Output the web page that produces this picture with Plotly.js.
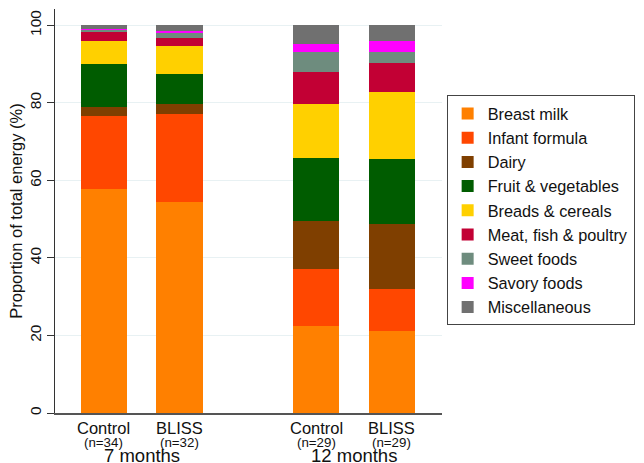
<!DOCTYPE html>
<html>
<head>
<meta charset="utf-8">
<script src="https://cdn.plot.ly/plotly-3.0.1.min.js"></script>
<style>
html,body{margin:0;padding:0;background:#fff;}
#chart{width:644px;height:463px;}
</style>
</head>
<body>
<div id="chart"></div>
<script>
// ---- data ----
const ageGroups = ['7 months', '7 months', '12 months', '12 months'];
const arms = ['Control', 'BLISS', 'Control', 'BLISS'];
const nLabels = ['(n=34)', '(n=32)', '(n=29)', '(n=29)'];
const groupLabels = ['7 months', '12 months'];

const foodNames = ['Breast milk', 'Infant formula', 'Dairy', 'Fruit & vegetables',
  'Breads & cereals', 'Meat, fish & poultry', 'Sweet foods', 'Savory foods', 'Miscellaneous'];

const breastMilk    = [57.8, 54.5, 22.4, 21.2];
const infantFormula = [18.7, 22.7, 14.7, 10.8];
const dairy         = [2.3, 2.4, 12.5, 16.8];
const fruitVeg      = [11.3, 7.8, 16.1, 16.7];
const breadsCereals = [5.8, 7.3, 14.0, 17.2];
const meatFish      = [2.4, 2.0, 8.3, 7.6];
const sweetFoods    = [0.6, 1.4, 5.1, 2.8];
const savoryFoods   = [0.1, 0.3, 2.1, 2.8];
const misc          = [1.0, 1.6, 4.8, 4.1];

const yTicks = [0, 20, 40, 60, 80, 100];

// ---- styles ----
const seriesValues = [breastMilk, infantFormula, dairy, fruitVeg, breadsCereals, meatFish, sweetFoods, savoryFoods, misc];
const colors = ['#FF8000', '#FF4700', '#7F3F00', '#005C00', '#FFD000', '#C20034', '#6E8C7E', '#FF00FF', '#707070'];
const FONT = 'Liberation Sans, Arial, sans-serif';

// x positions: bars within a group 1 apart, extra gap between groups
const groupGap = 0.8;
const groupIndex = ageGroups.map(g => groupLabels.indexOf(g));
const xpos = arms.map((a, i) => i + 1 + groupIndex[i] * groupGap);

const traces = seriesValues.map((vals, k) => ({
  type: 'bar',
  name: foodNames[k],
  x: xpos,
  y: vals,
  width: 0.61,
  marker: {color: colors[k], line: {width: 0}},
  hoverinfo: 'name+y'
}));

const annotations = [];
xpos.forEach((x, i) => {
  annotations.push({
    x: x, y: 0, xref: 'x', yref: 'y', yanchor: 'middle', xanchor: 'center',
    yshift: -15, showarrow: false, text: arms[i],
    font: {family: FONT, size: 16.5, color: '#111'}
  });
  annotations.push({
    x: x, y: 0, xref: 'x', yref: 'y', yanchor: 'middle', xanchor: 'center',
    yshift: -29.5, showarrow: false, text: nLabels[i],
    font: {family: FONT, size: 13.3, color: '#111'}
  });
});
groupLabels.forEach((g, gi) => {
  const xs = xpos.filter((x, i) => groupIndex[i] === gi);
  annotations.push({
    x: (xs[0] + xs[xs.length - 1]) / 2, y: 0, xref: 'x', yref: 'y', yanchor: 'middle', xanchor: 'center',
    yshift: -42.5, showarrow: false, text: g,
    font: {family: FONT, size: 18.5, color: '#111'}
  });
});

const layout = {
  width: 644, height: 463,
  margin: {l: 55, r: 198, t: 9, b: 50, pad: 0},
  paper_bgcolor: '#fff', plot_bgcolor: '#fff',
  barmode: 'stack',
  font: {family: FONT, color: '#111', size: 16.5},
  showlegend: true,
  legend: {
    x: 1.012, xanchor: 'left', y: 0.786, yanchor: 'top',
    bgcolor: '#fff', bordercolor: '#444', borderwidth: 1,
    font: {family: FONT, size: 16.3, color: '#111'},
    traceorder: 'normal'
  },
  xaxis: {
    range: [0.357, 5.46],
    tickvals: xpos, showticklabels: false,
    ticks: '', showgrid: false, zeroline: false,
    showline: true, linecolor: '#555', linewidth: 2,
    fixedrange: true
  },
  yaxis: {
    range: [0, 104.2],
    tickvals: yTicks,
    tickangle: -90,
    ticks: 'outside', ticklen: 7, tickcolor: '#333', tickwidth: 1,
    showgrid: true, gridcolor: '#E8F1F3', gridwidth: 1,
    zeroline: false, showline: true, linecolor: '#333', linewidth: 1,
    tickfont: {family: FONT, size: 15.5, color: '#111'},
    title: {text: 'Proportion of total energy (%)', font: {family: FONT, size: 16.5, color: '#111'}, standoff: 0},
    fixedrange: true
  },
  annotations: annotations
};

Plotly.newPlot('chart', traces, layout, {displayModeBar: false, staticPlot: true});
</script>
</body>
</html>
